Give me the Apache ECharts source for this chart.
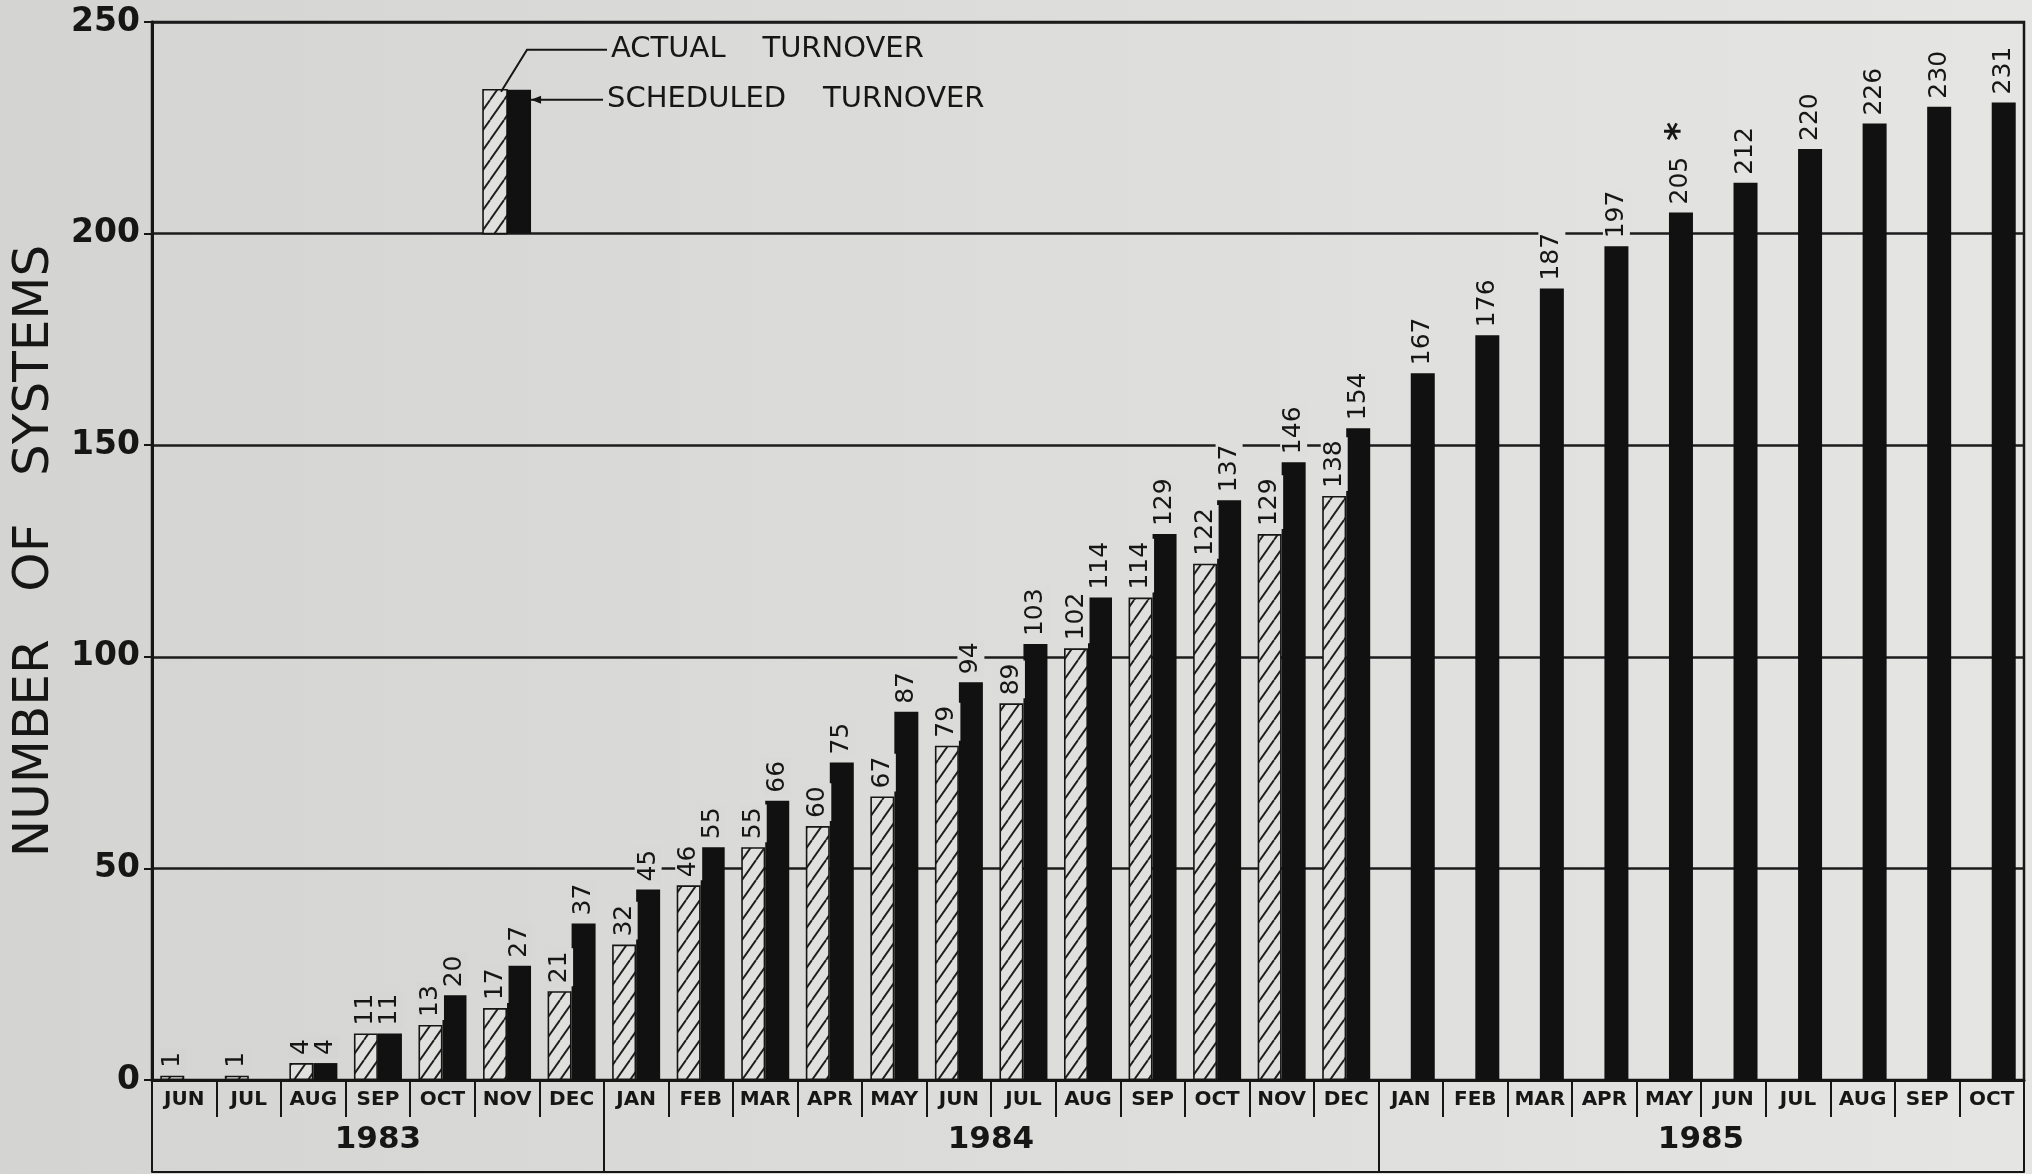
<!DOCTYPE html>
<html><head><meta charset="utf-8">
<script src="https://cdn.jsdelivr.net/npm/echarts@6/dist/echarts.min.js"></script>
<style>html,body{margin:0;padding:0;background:#dcdcda}#c{width:2032px;height:1174px}</style>
</head><body><div id="c"></div>
<script>
// ---- data ----
const months = ['JUN','JUL','AUG','SEP','OCT','NOV','DEC',
  'JAN','FEB','MAR','APR','MAY','JUN','JUL','AUG','SEP','OCT','NOV','DEC',
  'JAN','FEB','MAR','APR','MAY','JUN','JUL','AUG','SEP','OCT'];
const years = ['1983','1984','1985'];
const yearStart = [0, 7, 19];
const actual = [1,1,4,11,13,17,21,32,46,55,60,67,79,89,102,114,122,129,138,
  null,null,null,null,null,null,null,null,null,null];
const scheduled = [null,null,4,11,20,27,37,45,55,66,75,87,94,103,114,129,137,146,154,
  167,176,187,197,205,212,220,226,230,231];
const scheduledNotes = ['','','','','','','','','','','','','','','','','','','',
  '','','','','*','','','','',''];
const yTicks = [0,50,100,150,200,250];
const legendSample = [[5, 200, 234]];
const legendNames = ['ACTUAL    TURNOVER', 'SCHEDULED    TURNOVER'];

// ---- styling helpers ----
const INK = '#161616';
const FONT = 'DejaVu Sans';
const bgL = [212,212,210], bgR = [229,229,227];
function bgAt(i){
  const t = i/(months.length-1);
  const c = bgL.map((v,k)=>Math.round(v+(bgR[k]-v)*t));
  return 'rgb('+c.join(',')+')';
}
function hatchCanvas(){
  const w=14,h=20;
  const cv=document.createElement('canvas'); cv.width=w; cv.height=h;
  const g=cv.getContext('2d');
  g.fillStyle='#e0e0de'; g.fillRect(0,0,w,h);
  g.strokeStyle='#1e1e1e'; g.lineWidth=1.9;
  for(let k=-1;k<=1;k++){ g.beginPath(); g.moveTo(k*w,h); g.lineTo(k*w+w,0); g.stroke(); }
  return cv;
}
const hatch = {image: hatchCanvas(), repeat: 'repeat'};

// year axis labels: centred in each year's block
const yearAxisData = months.map(()=>({value:''}));
years.forEach((y,k)=>{
  const s = yearStart[k], e = (k+1<years.length?yearStart[k+1]:months.length);
  const n = e - s;
  const idx = s + Math.floor((n-1)/2);
  const item = {value: y};
  if (n % 2 === 0) item.textStyle = {padding:[0,0,0,64]};
  yearAxisData[idx] = item;
});

const labelBase = {
  show:true, position:'top', rotate:90, align:'left', verticalAlign:'middle',
  distance:5, fontFamily:FONT, fontSize:25, color:INK, padding:[1,3]
};

const actualData = actual.map((v,i)=>({
  value:v,
  label:{backgroundColor:bgAt(i)}
}));
const scheduledData = scheduled.map((v,i)=>({
  value:v,
  label:{backgroundColor:bgAt(i)}
}));

const chart = echarts.init(document.getElementById('c'));
chart.setOption({
  animation:false,
  backgroundColor: new echarts.graphic.LinearGradient(0,0,1,0,[
    {offset:0,color:'rgb('+bgL.join(',')+')'},{offset:1,color:'rgb('+bgR.join(',')+')'}]),
  grid:{left:152,right:8,top:22,bottom:94,show:true,borderColor:INK,borderWidth:2.5,backgroundColor:'transparent'},
  xAxis:[{
    type:'category', data:months, position:'bottom',
    axisLine:{show:true,lineStyle:{color:INK,width:3}},
    axisTick:{show:true,interval:0,length:37,lineStyle:{color:INK,width:2}},
    axisLabel:{interval:0,margin:10,fontFamily:FONT,fontSize:20,fontWeight:'bold',color:INK},
    splitLine:{show:false}
  },{
    type:'category', data:yearAxisData, position:'bottom', offset:92,
    axisLine:{show:true,lineStyle:{color:INK,width:2}},
    axisTick:{show:true,inside:true,length:92,interval:(i)=>yearStart.indexOf(i)>=0,lineStyle:{color:INK,width:2}},
    axisLabel:{inside:true,interval:0,margin:17,fontFamily:FONT,fontSize:31,fontWeight:'bold',color:INK},
    splitLine:{show:false}
  }],
  yAxis:{
    type:'value', min:yTicks[0], max:yTicks[yTicks.length-1], interval:yTicks[1]-yTicks[0],
    name:'NUMBER   OF   SYSTEMS', nameLocation:'middle', nameGap:88,
    nameTextStyle:{fontFamily:FONT,fontSize:50,fontWeight:'normal',color:INK},
    axisLine:{show:true,lineStyle:{color:INK,width:3}},
    axisTick:{show:true,length:8,lineStyle:{color:INK,width:2}},
    axisLabel:{margin:12,fontFamily:FONT,fontSize:33,fontWeight:'bold',color:INK},
    splitLine:{show:true,lineStyle:{color:'#1c1c1c',width:2.5}}
  },
  series:[{
    name:'ACTUAL TURNOVER', type:'bar', barWidth:24, barGap:'0%',
    data:actualData,
    itemStyle:{color:hatch,borderColor:INK,borderWidth:1.6},
    label:Object.assign({},labelBase),
    z:3
  },{
    name:'SCHEDULED TURNOVER', type:'bar', barWidth:24, barGap:'0%',
    data:scheduledData,
    itemStyle:{color:'#111111'},
    label:Object.assign({},labelBase,{
      formatter:(p)=>p.value + (scheduledNotes[p.dataIndex] ? '  {ast|' + scheduledNotes[p.dataIndex] + '}' : ''),
      rich:{ast:{fontFamily:FONT,fontSize:36,fontWeight:'bold',color:INK}}
    }),
    z:3
  },{
    type:'custom', silent:true, z:4,
    data:legendSample,
    encode:{x:0,y:[1,2]},
    renderItem:(params, api)=>{
      const c = api.coord([api.value(0), api.value(1)]);
      const t = api.coord([api.value(0), api.value(2)]);
      const cx = c[0], yb = c[1], yt = t[1];
      const bw = 24;
      return {type:'group', children:[
        {type:'rect', shape:{x:cx-bw,y:yt,width:bw,height:yb-yt}, style:{fill:hatch,stroke:INK,lineWidth:1.6}},
        {type:'rect', shape:{x:cx,y:yt,width:bw,height:yb-yt}, style:{fill:'#111111'}},
        {type:'polyline', shape:{points:[[cx-6,yt+2],[cx+20,yt-40],[cx+100,yt-40]]}, style:{stroke:INK,lineWidth:2,fill:null}},
        {type:'text', x:cx+104, y:yt-40, style:{text:legendNames[0],fontFamily:FONT,fontSize:29,fill:INK,verticalAlign:'middle',align:'left'}},
        {type:'line', shape:{x1:cx+bw,y1:yt+10,x2:cx+96,y2:yt+10}, style:{stroke:INK,lineWidth:2}},
        {type:'polygon', shape:{points:[[cx+bw,yt+10],[cx+bw+10,yt+6],[cx+bw+10,yt+14]]}, style:{fill:INK}},
        {type:'text', x:cx+100, y:yt+10, style:{text:legendNames[1],fontFamily:FONT,fontSize:29,fill:INK,verticalAlign:'middle',align:'left'}}
      ]};
    }
  }]
});
</script></body></html>
